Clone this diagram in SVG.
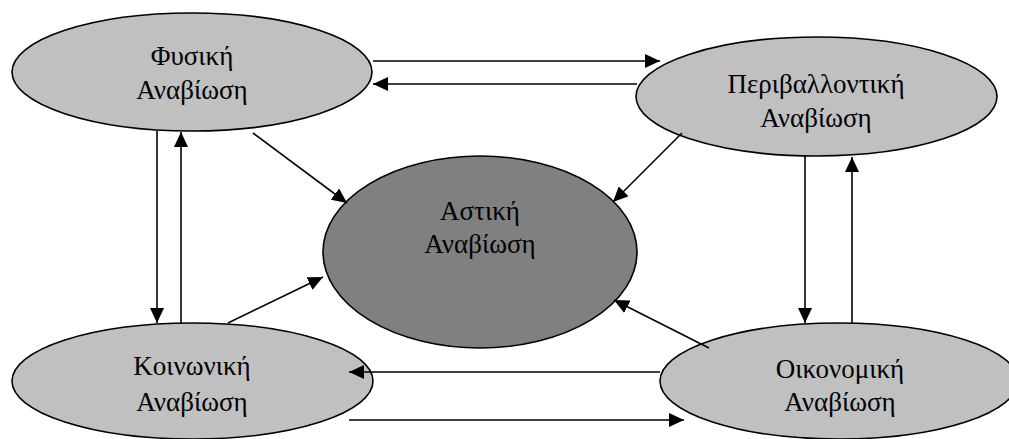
<svg xmlns="http://www.w3.org/2000/svg" width="1009" height="439" viewBox="0 0 1009 439">
<defs>
<marker id="ah" markerWidth="16" markerHeight="14" refX="15" refY="7" orient="auto" markerUnits="userSpaceOnUse">
<path d="M0,0 L15,7 L0,14 Z" fill="#000"/>
</marker>
<style>
.node{stroke:#000;stroke-width:1.6}
.light{fill:#C0C0C0}
.dark{fill:#808080}
.lbl{font-family:"Liberation Serif","DejaVu Serif",serif;font-size:27px;fill:#000;text-anchor:middle}
.conn line{stroke:#000;stroke-width:1.6;fill:none}
.arr{marker-end:url(#ah)}
</style>
</defs>
<rect width="1009" height="439" fill="#fff"/>
<g id="n-fysiki">
<ellipse class="node light" cx="192" cy="72" rx="180" ry="59"/>
<text class="lbl" x="192" y="65">Φυσική</text>
<text class="lbl" x="192" y="99">Αναβίωση</text>
</g>
<g id="n-perivallontiki">
<ellipse class="node light" cx="816.5" cy="96.5" rx="180.5" ry="59.5"/>
<text class="lbl" x="816" y="93">Περιβαλλοντική</text>
<text class="lbl" x="816" y="127">Αναβίωση</text>
</g>
<g id="n-astiki">
<ellipse class="node dark" cx="480" cy="252" rx="157" ry="96"/>
<text class="lbl" x="480" y="220">Αστική</text>
<text class="lbl" x="480" y="253">Αναβίωση</text>
</g>
<g id="n-koinoniki">
<ellipse class="node light" cx="192.5" cy="381" rx="180.5" ry="58"/>
<text class="lbl" x="192" y="375">Κοινωνική</text>
<text class="lbl" x="192" y="411">Αναβίωση</text>
</g>
<g id="n-oikonomiki">
<ellipse class="node light" cx="839" cy="381" rx="179" ry="58"/>
<text class="lbl" x="840" y="378">Οικονομική</text>
<text class="lbl" x="840" y="411">Αναβίωση</text>
</g>
<g id="connectors" class="conn">
<line class="arr" x1="373" y1="61" x2="660" y2="61"/>
<line class="arr" x1="637" y1="84" x2="373" y2="84"/>
<line class="arr" x1="157" y1="131" x2="157" y2="323"/>
<line class="arr" x1="181" y1="323" x2="181" y2="132"/>
<line class="arr" x1="253" y1="133" x2="347" y2="203"/>
<line class="arr" x1="228" y1="323" x2="323" y2="277"/>
<line class="arr" x1="682" y1="133" x2="613" y2="202"/>
<line class="arr" x1="709" y1="348" x2="614" y2="300"/>
<line class="arr" x1="805" y1="156" x2="805" y2="323"/>
<line class="arr" x1="852" y1="323" x2="852" y2="157"/>
<line class="arr" x1="660" y1="372" x2="349" y2="372"/>
<line class="arr" x1="349" y1="420" x2="684" y2="420"/>
</g>
</svg>
